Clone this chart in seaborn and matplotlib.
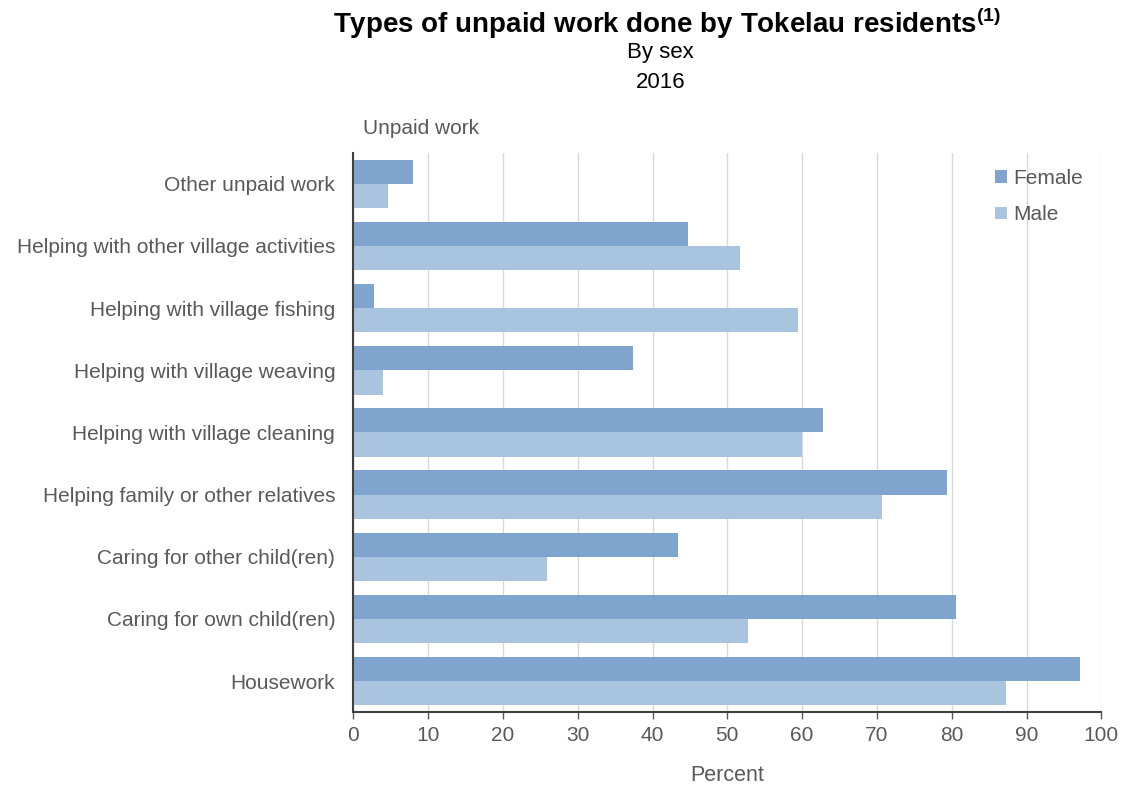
import matplotlib
matplotlib.use("Agg")
import matplotlib.pyplot as plt
import seaborn as sns
import pandas as pd

categories = [
    "Other unpaid work",
    "Helping with other village activities",
    "Helping with village fishing",
    "Helping with village weaving",
    "Helping with village cleaning",
    "Helping family or other relatives",
    "Caring for other child(ren)",
    "Caring for own child(ren)",
    "Housework",
]
female = [8.0, 44.8, 2.8, 37.4, 62.8, 79.4, 43.4, 80.6, 97.1]
male = [4.7, 51.7, 59.4, 4.0, 60.0, 70.7, 25.9, 52.7, 87.3]
series = ["Female", "Male"]
xticks = [0, 10, 20, 30, 40, 50, 60, 70, 80, 90, 100]

df = pd.DataFrame({
    "category": categories * 2,
    "value": female + male,
    "sex": [series[0]] * len(categories) + [series[1]] * len(categories),
})

sns.set_theme(style="white")
plt.rcParams["font.family"] = ["Liberation Sans", "DejaVu Sans"]
plt.rcParams["mathtext.fontset"] = "custom"
plt.rcParams["mathtext.rm"] = "Liberation Sans"
plt.rcParams["mathtext.bf"] = "Liberation Sans:bold"

grey = "#595959"
fig = plt.figure(figsize=(11.25, 7.87), dpi=100)
ax = fig.add_axes([0.314, 0.095, 0.665, 0.711])

sns.barplot(data=df, y="category", x="value", hue="sex", order=categories,
            hue_order=series, palette=["#7FA5CF", "#A9C4DE"], orient="h",
            width=0.78, ax=ax, saturation=1, edgecolor="none")

ax.set_xlim(0, 100)
ax.set_xticks(xticks)
ax.set_xticklabels([str(t) for t in xticks])
ax.set_ylim(len(categories) - 0.5, -0.5)
ax.grid(axis="x", color="#D9D9D9", linewidth=1)
ax.set_axisbelow(True)
for s in ["top", "right"]:
    ax.spines[s].set_visible(False)
ax.spines["left"].set_color("#404040")
ax.spines["bottom"].set_color("#404040")
ax.spines["left"].set_linewidth(1.5)
ax.spines["bottom"].set_linewidth(1.5)
ax.tick_params(axis="x", colors=grey, labelsize=15, length=5, width=1, direction="out", bottom=True, pad=5)
ax.tick_params(axis="y", colors=grey, labelsize=15, length=0, pad=13)
ax.set_xlabel("Percent", color=grey, fontsize=15.5, labelpad=14)
ax.set_ylabel("")

leg = ax.legend(loc="upper right", bbox_to_anchor=(1.0, 1.005), frameon=False,
                fontsize=15, handlelength=0.55, handleheight=0.55, handletextpad=0.3,
                labelspacing=0.85, labelcolor=grey)

fig.text(0.323, 0.837, "Unpaid work", color=grey, fontsize=15, ha="left", va="center")
fig.text(0.593, 0.970, r"Types of unpaid work done by Tokelau residents$^{\mathbf{(1)}}$",
         fontsize=20, fontweight="bold", ha="center", va="center", color="black")
fig.text(0.587, 0.933, "By sex", fontsize=16, ha="center", va="center", color="black")
fig.text(0.587, 0.895, "2016", fontsize=16, ha="center", va="center", color="black")

fig.savefig("out.png", dpi=100)
